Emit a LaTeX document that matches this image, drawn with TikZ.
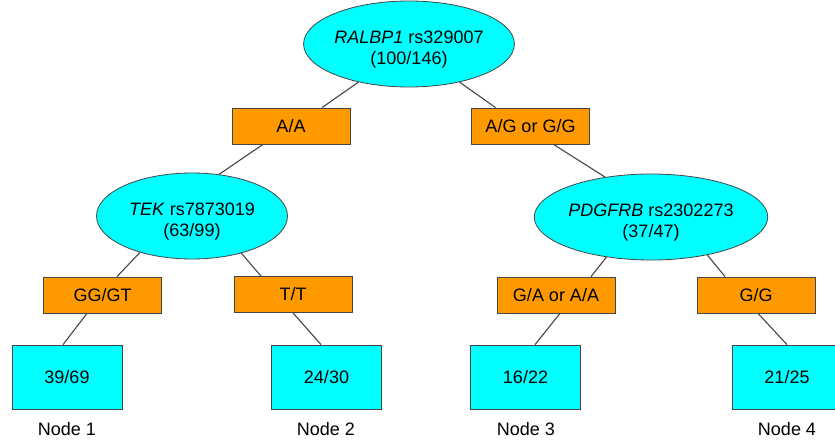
\documentclass[tikz,border=0pt]{standalone}
\usepackage{fontspec}
\setmainfont{Liberation Sans}
\usetikzlibrary{shapes.geometric}
\definecolor{treecyan}{HTML}{00FFFF}
\definecolor{treeorange}{HTML}{FF9900}
\definecolor{treeedge}{HTML}{454545}

\begin{document}
\begin{tikzpicture}[x=1pt,y=-1pt,font=\fontsize{18}{21}\selectfont]
  \tikzstyle{splitnode}=[ellipse, fill=treecyan, draw=treeedge, line width=0.8pt, minimum width=191pt, minimum height=86pt, inner sep=0pt, align=center, text height=43pt, text depth=2pt]
  \tikzstyle{genobox}=[rectangle, fill=treeorange, draw=treeedge, line width=0.8pt, minimum width=118pt, minimum height=36pt, inner sep=0pt]
  \tikzstyle{leafbox}=[rectangle, fill=treecyan, draw=treeedge, line width=0.8pt, minimum width=110pt, minimum height=64pt, inner sep=0pt]
  \tikzstyle{branch}=[draw=treeedge, line width=1.1pt]
  \tikzstyle{nodetag}=[inner sep=0pt]

  \useasboundingbox (0,0) rectangle (835,444);

  % splits
  \node[splitnode] (ralbp) at (409,44) {\textit{RALBP1} rs329007\\(100/146)};
  \node[splitnode] (tek) at (192,216) {\textit{TEK} rs7873019\\(63/99)};
  \node[splitnode] (pdgfrb) at (651,217) {\textit{PDGFRB} rs2302273\\(37/47)};

  % genotypes
  \node[genobox] (aa) at (291,126) {A/A};
  \node[genobox] (aggg) at (530.5,126) {A/G or G/G};
  \node[genobox] (gggt) at (102.5,295) {GG/GT};
  \node[genobox] (tt) at (293,294.5) {T/T};
  \node[genobox] (gaaa) at (556,295) {G/A or A/A};
  \node[genobox] (gg) at (756,295) {G/G};

  % terminal nodes
  \node[leafbox] (n1) at (67,377) {39/69};
  \node[leafbox] (n2) at (326.5,377) {24/30};
  \node[leafbox] (n3) at (525.5,377) {16/22};
  \node[leafbox] (n4) at (787,377) {21/25};
  \node[nodetag] (t1) at (67,429) {Node 1};
  \node[nodetag] (t2) at (326,429) {Node 2};
  \node[nodetag] (t3) at (526,429) {Node 3};
  \node[nodetag] (t4) at (787,429) {Node 4};

  % branches
  \draw[branch] (ralbp.217) -- ([xshift=31pt]aa.north);
  \draw[branch] (ralbp.323) -- ([xshift=-35pt]aggg.north);
  \draw[branch] ([xshift=-28pt]aa.south) -- (tek.57);
  \draw[branch] ([xshift=23pt]aggg.south) -- (pdgfrb.139);
  \draw[branch] (tek.215) -- ([xshift=14.5pt]gggt.north);
  \draw[branch] (tek.323) -- ([xshift=-32pt]tt.north);
  \draw[branch] (pdgfrb.222) -- ([xshift=35pt]gaaa.north);
  \draw[branch] (pdgfrb.326) -- ([xshift=-31pt]gg.north);
  \draw[branch] ([xshift=-15.5pt]gggt.south) -- ([xshift=-4pt]n1.north);
  \draw[branch] (tt.south) -- ([xshift=-5.5pt]n2.north);
  \draw[branch] ([xshift=4pt]gaaa.south) -- ([xshift=9.5pt]n3.north);
  \draw[branch] ([xshift=2pt]gg.south) -- (n4.north);
\end{tikzpicture}
\end{document}
